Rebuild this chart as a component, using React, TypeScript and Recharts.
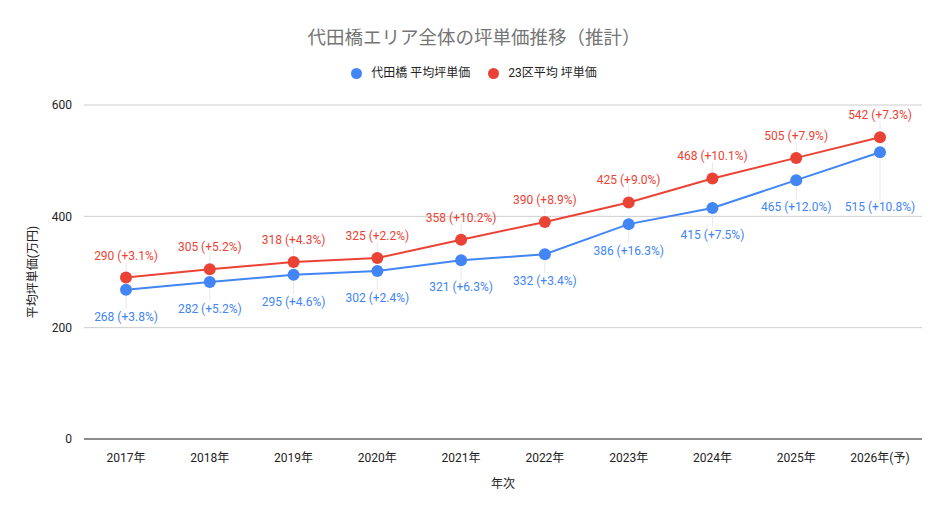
import React from "react";
import {
  LineChart,
  Line,
  XAxis,
  YAxis,
  CartesianGrid,
  LabelList,
  Label,
} from "recharts";

const years = ["2017年", "2018年", "2019年", "2020年", "2021年", "2022年", "2023年", "2024年", "2025年", "2026年(予)"];
const daitabashi = [268, 282, 295, 302, 321, 332, 386, 415, 465, 515];
const daitabashiGrowth = ["+3.8%", "+5.2%", "+4.6%", "+2.4%", "+6.3%", "+3.4%", "+16.3%", "+7.5%", "+12.0%", "+10.8%"];
const ward23 = [290, 305, 318, 325, 358, 390, 425, 468, 505, 542];
const ward23Growth = ["+3.1%", "+5.2%", "+4.3%", "+2.2%", "+10.2%", "+8.9%", "+9.0%", "+10.1%", "+7.9%", "+7.3%"];
const yTicks = [0, 200, 400, 600];

const BLUE = "#4285F4";
const RED = "#EA4335";
const FONT = "Roboto, 'Noto Sans CJK JP', sans-serif";

const data = years.map((y, i) => ({
  year: y,
  blue: daitabashi[i],
  blueLabel: `${daitabashi[i]} (${daitabashiGrowth[i]})`,
  red: ward23[i],
  redLabel: `${ward23[i]} (${ward23Growth[i]})`,
}));

const makeLabel = (color: string, below: boolean) => (props: any) => {
  const { x, y, value, index } = props;
  let off = below ? 27 : -22;
  if (below && index === data.length - 1) off = 55;
  const ty = y + off;
  const lineStart = below ? y + 7 : y - 7;
  const lineEnd = below ? ty - 8 : ty + 6;
  return (
    <g>
      <line x1={x} y1={lineStart} x2={x} y2={lineEnd} stroke="#e8e8e8" strokeWidth={1} />
      <text
        x={x}
        y={ty}
        textAnchor="middle"
        dominantBaseline="central"
        fill={color}
        fontSize={12}
        fontFamily={FONT}
      >
        {value}
      </text>
    </g>
  );
};

export default function App() {
  return (
    <div style={{ position: "absolute", left: 0, top: 0, width: 948, height: 518, background: "#fff", fontFamily: FONT }}>
      <div
        style={{
          position: "absolute",
          left: 0,
          top: 26,
          width: 948,
          textAlign: "center",
          fontSize: 18.5,
          color: "#757575",
          lineHeight: "24px",
        }}
      >
        代田橋エリア全体の坪単価推移（推計）
      </div>
      <div
        style={{
          position: "absolute",
          left: 0,
          top: 65,
          width: 948,
          display: "flex",
          justifyContent: "center",
          fontSize: 12,
          color: "#222",
          lineHeight: "16px",
        }}
      >
        <span style={{ display: "flex", alignItems: "center", marginRight: 18 }}>
          <span style={{ width: 11, height: 11, borderRadius: "50%", background: BLUE, display: "inline-block", marginRight: 9 }} />
          代田橋 平均坪単価
        </span>
        <span style={{ display: "flex", alignItems: "center" }}>
          <span style={{ width: 11, height: 11, borderRadius: "50%", background: RED, display: "inline-block", marginRight: 9 }} />
          23区平均 坪単価
        </span>
      </div>
      <div style={{ position: "absolute", left: 0, top: 0 }}>
        <LineChart
          width={948}
          height={518}
          data={data}
          margin={{ top: 105, right: 26, bottom: 18, left: 0 }}
        >
          <CartesianGrid vertical={false} stroke="#cccccc" />
          <XAxis
            dataKey="year"
            padding={{ left: 42, right: 42 }}
            axisLine={{ stroke: "#333", strokeWidth: 1 }}
            tickLine={false}
            tick={{ fill: "#222", fontSize: 12, fontFamily: FONT }}
            tickMargin={8}
            height={61}
            interval={0}
          >
            <Label
              content={(p: any) => {
                const vb = p.viewBox;
                return (
                  <text
                    x={vb.x + vb.width / 2}
                    y={vb.y + 45}
                    textAnchor="middle"
                    dominantBaseline="central"
                    fontSize={12}
                    fill="#222"
                    fontFamily={FONT}
                  >
                    年次
                  </text>
                );
              }}
            />
          </XAxis>
          <YAxis
            domain={[0, 600]}
            ticks={yTicks}
            width={84}
            axisLine={false}
            tickLine={false}
            tick={{ fill: "#222", fontSize: 12, fontFamily: FONT }}
            tickMargin={6}
          >
            <Label
              content={(p: any) => {
                const vb = p.viewBox;
                const cx = 33;
                const cy = vb.y + vb.height / 2;
                return (
                  <text
                    x={cx}
                    y={cy}
                    textAnchor="middle"
                    dominantBaseline="central"
                    fontSize={12}
                    fill="#222"
                    fontFamily={FONT}
                    transform={`rotate(-90 ${cx} ${cy})`}
                  >
                    平均坪単価(万円)
                  </text>
                );
              }}
            />
          </YAxis>
          <Line
            dataKey="blue"
            stroke={BLUE}
            strokeWidth={2}
            dot={{ r: 6, fill: BLUE, stroke: BLUE, strokeWidth: 0 }}
            activeDot={false}
            isAnimationActive={false}
          >
            <LabelList dataKey="blueLabel" content={makeLabel(BLUE, true)} />
          </Line>
          <Line
            dataKey="red"
            stroke={RED}
            strokeWidth={2}
            dot={{ r: 6, fill: RED, stroke: RED, strokeWidth: 0 }}
            activeDot={false}
            isAnimationActive={false}
          >
            <LabelList dataKey="redLabel" content={makeLabel(RED, false)} />
          </Line>
        </LineChart>
      </div>
    </div>
  );
}
